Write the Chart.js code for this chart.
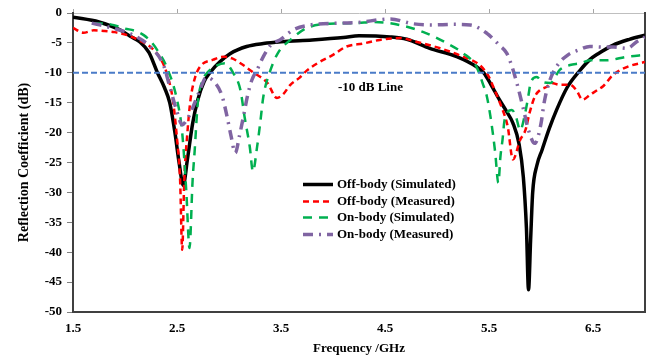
<!DOCTYPE html>
<html>
<head>
<meta charset="utf-8">
<script src="https://cdn.jsdelivr.net/npm/chart.js@4.4.1/dist/chart.umd.min.js"></script>
<style>
  html, body { margin: 0; padding: 0; background: #fff; }
  #wrap { width: 650px; height: 356px; }
</style>
</head>
<body>
<div id="wrap"><canvas id="s11Chart"></canvas></div>
<script>
// frequency (GHz) / reflection coefficient (dB) pairs for each curve
const offSimFreq = [1.5, 1.75, 1.95, 2.05, 2.14, 2.23, 2.31, 2.38, 2.43, 2.48, 2.52, 2.56, 2.6, 2.65, 2.7, 2.76, 2.82, 2.91, 3.01, 3.17, 3.33, 3.5, 3.8, 4.1, 4.25, 4.55, 4.71, 4.93, 5.19, 5.38, 5.45, 5.52, 5.6, 5.67, 5.73, 5.79, 5.83, 5.86, 5.88, 5.9, 5.92, 5.96, 6.01, 6.08, 6.15, 6.25, 6.37, 6.47, 6.55, 6.69, 6.85, 7];
const offSimDb = [-0.7, -1.5, -2.8, -3.9, -4.8, -6.6, -9.9, -12.5, -15, -20, -25, -28.8, -24.5, -18.5, -14.5, -11.5, -9.9, -8.2, -6.8, -5.6, -5.1, -4.8, -4.5, -4.1, -3.8, -4.0, -4.4, -5.9, -7.3, -9.0, -10, -12, -14.5, -16.5, -18.4, -22, -27.4, -36, -46.3, -38, -30, -25.5, -22.9, -19.3, -16.2, -12.5, -9.7, -7.8, -6.8, -5.4, -4.4, -3.7];

const offMeasFreq = [1.5, 1.6, 1.7, 1.8, 1.9, 2.02, 2.14, 2.24, 2.34, 2.4, 2.46, 2.5, 2.53, 2.55, 2.57, 2.6, 2.63, 2.67, 2.72, 2.85, 2.95, 3.03, 3.11, 3.23, 3.37, 3.46, 3.52, 3.59, 3.68, 3.75, 3.85, 4.0, 4.13, 4.29, 4.45, 4.64, 4.8, 5.03, 5.25, 5.41, 5.5, 5.54, 5.62, 5.68, 5.73, 5.8, 5.85, 5.89, 5.94, 5.99, 6.06, 6.1, 6.18, 6.28, 6.34, 6.4, 6.47, 6.54, 6.6, 6.69, 6.83, 7];
const offMeasDb = [-2.5, -3.3, -2.9, -3.0, -3.2, -3.7, -4.6, -5.6, -7.6, -10, -14.5, -21, -28, -39.6, -28, -20, -14.5, -11, -9, -7.8, -7.3, -7.6, -8.4, -9.9, -11.7, -14.2, -13.6, -12, -10.8, -9.6, -8.4, -7, -5.6, -5.1, -4.5, -4.2, -4.8, -5.9, -7.3, -8.7, -10.7, -12.3, -15.7, -19, -24.5, -21.2, -19.6, -16.7, -14, -12.9, -12.3, -11.7, -12, -12, -12.9, -14.5, -13.7, -12.9, -12.2, -10.4, -9, -8.2];

const onSimFreq = [1.7, 1.86, 2.0, 2.1, 2.18, 2.25, 2.31, 2.4, 2.5, 2.55, 2.59, 2.62, 2.65, 2.67, 2.7, 2.74, 2.79, 2.88, 2.96, 3.04, 3.11, 3.15, 3.2, 3.23, 3.27, 3.3, 3.33, 3.39, 3.47, 3.59, 3.75, 3.97, 4.23, 4.38, 4.64, 4.87, 5.1, 5.25, 5.38, 5.44, 5.48, 5.52, 5.56, 5.59, 5.61, 5.63, 5.65, 5.72, 5.76, 5.8, 5.84, 5.88, 5.9, 5.96, 6.01, 6.09, 6.18, 6.28, 6.38, 6.47, 6.63, 6.83, 7];
const onSimDb = [-1.7, -1.9, -2.6, -3.0, -3.7, -4.8, -6.2, -9, -14.5, -20, -30, -39.3, -28, -23, -15, -11.5, -10, -8.8, -8.4, -10, -12.9, -17.4, -22.4, -26.5, -22.4, -18.4, -14, -10, -6.7, -4.5, -2.5, -1.8, -1.7, -1.5, -2.0, -3.2, -5.1, -6.7, -9, -11.8, -14, -18, -23.4, -28.4, -24, -21.2, -17.9, -16.2, -17.4, -19.6, -17.4, -13.7, -11.7, -10.7, -11.5, -11.7, -9.5, -8.7, -8.4, -7.9, -7.9, -7.3, -7];

const onMeasFreq = [1.68, 1.83, 2.08, 2.24, 2.37, 2.43, 2.5, 2.55, 2.59, 2.63, 2.72, 2.78, 2.84, 2.93, 2.98, 3.02, 3.06, 3.1, 3.14, 3.18, 3.22, 3.27, 3.33, 3.41, 3.49, 3.62, 3.78, 4.07, 4.23, 4.55, 4.77, 4.96, 5.15, 5.32, 5.48, 5.55, 5.6, 5.67, 5.72, 5.78, 5.83, 5.88, 5.94, 6.0, 6.03, 6.08, 6.16, 6.26, 6.36, 6.47, 6.6, 6.7, 6.83, 6.92, 7];
const onMeasDb = [-1.7, -2.3, -3.7, -5.6, -8.7, -12.3, -16.5, -18.7, -18, -16.7, -12.9, -10.8, -11.2, -13.7, -17.2, -20.6, -23.4, -20.6, -17.2, -13.7, -11.2, -9.5, -7.3, -5.2, -4.5, -2.8, -2.0, -1.7, -1.6, -1.0, -1.8, -2.0, -1.9, -2.0, -3.4, -4.5, -5.4, -6.7, -8.9, -12.5, -16, -19.6, -21.8, -18.5, -15, -11.5, -8.7, -7, -6.2, -5.6, -5.7, -5.7, -5.9, -4.8, -4.0];

const seriesNames = ['Off-body (Simulated)', 'Off-body (Measured)', 'On-body (Simulated)', 'On-body (Measured)'];
const xTicks = [1.5, 2.5, 3.5, 4.5, 5.5, 6.5];
const freqRange = [1.5, 7];
const refLineDb = -10;
const refLabel = '-10 dB Line';
const refLabelAt = [4.36, -12.5];

const serif = '"Liberation Serif", "Times New Roman", serif';

function pairs(xs, ys) {
  return xs.map((x, i) => ({ x: x, y: ys[i] }));
}

function line(label, xs, ys, color, width, dash, order) {
  return {
    label: label,
    data: pairs(xs, ys),
    borderColor: color,
    borderWidth: width,
    borderDash: dash,
    cubicInterpolationMode: 'monotone',
    pointRadius: 0,
    fill: false,
    order: order,
    xAxisID: 'x',
    yAxisID: 'y'
  };
}

// legend box and the "-10 dB" caption sit inside the plot area
const insideLegend = {
  id: 'insideLegend',
  afterDraw(chart) {
    const { ctx, chartArea, scales } = chart;
    ctx.save();
    ctx.font = 'bold 13px ' + serif;
    ctx.fillStyle = '#000';
    ctx.textBaseline = 'middle';
    ctx.textAlign = 'center';
    ctx.fillText(refLabel, scales.x.getPixelForValue(refLabelAt[0]), scales.y.getPixelForValue(refLabelAt[1]));

    const x0 = chartArea.left + 230;
    const y0 = chartArea.top + 171;
    ctx.textAlign = 'left';
    chart.data.datasets.filter(d => d.label).forEach((d, i) => {
      const y = Math.round(y0 + i * 16.7) + 0.5;
      ctx.strokeStyle = d.borderColor;
      ctx.lineWidth = d.borderWidth;
      ctx.setLineDash(d.borderDash || []);
      ctx.beginPath();
      ctx.moveTo(x0, y);
      ctx.lineTo(x0 + 30, y);
      ctx.stroke();
      ctx.setLineDash([]);
      ctx.fillText(d.label, x0 + 34, y);
    });
    ctx.restore();
  }
};

const xTickBuilder = s => { s.ticks = xTicks.map(v => ({ value: v })); };
const tickFont = { family: serif, size: 13, weight: 'bold' };

new Chart(document.getElementById('s11Chart').getContext('2d'), {
  type: 'line',
  data: {
    datasets: [
      line(seriesNames[0], offSimFreq, offSimDb, '#000000', 3.5, [], 4),
      line(seriesNames[1], offMeasFreq, offMeasDb, '#FF0000', 2.5, [6, 4], 3),
      line(seriesNames[2], onSimFreq, onSimDb, '#00B050', 2.5, [9, 7], 2),
      line(seriesNames[3], onMeasFreq, onMeasDb, '#8064A2', 3.5, [10, 6, 2, 6], 1),
      {
        label: '',
        data: freqRange.map(f => ({ x: f, y: refLineDb })),
        borderColor: '#4A7BC8',
        borderWidth: 2,
        borderDash: [6, 3],
        pointRadius: 0,
        order: 0,
        xAxisID: 'x',
        yAxisID: 'y'
      }
    ]
  },
  options: {
    responsive: true,
    maintainAspectRatio: false,
    animation: false,
    layout: { padding: 0 },
    plugins: {
      legend: { display: false },
      tooltip: { enabled: false }
    },
    scales: {
      x: {
        type: 'linear',
        position: 'bottom',
        min: freqRange[0],
        max: freqRange[1],
        afterBuildTicks: xTickBuilder,
        afterFit: s => { s.height = 44; },
        ticks: { padding: 9, color: '#000', font: tickFont, callback: v => v.toFixed(1) },
        grid: { display: false, drawTicks: false },
        border: { display: true, color: '#404040', width: 2 },
        title: { display: true, text: 'Frequency /GHz', color: '#000', font: tickFont, padding: 0 }
      },
      xTop: {
        type: 'linear',
        position: 'top',
        min: freqRange[0],
        max: freqRange[1],
        afterBuildTicks: xTickBuilder,
        afterFit: s => { s.height = 13; },
        ticks: { display: false },
        grid: { drawOnChartArea: false, drawTicks: true, tickLength: 4, color: '#A6A6A6' },
        border: { display: true, color: '#BFBFBF', width: 1 }
      },
      y: {
        type: 'linear',
        position: 'left',
        min: -50,
        max: 0,
        afterFit: s => { s.width = 73; },
        ticks: { stepSize: 5, padding: 5, color: '#000', font: tickFont },
        grid: { drawOnChartArea: false, drawTicks: true, tickLength: 6, color: '#808080' },
        border: { display: true, color: '#404040', width: 2 },
        title: {
          display: true,
          text: 'Reflection Coefficient (dB)',
          color: '#000',
          font: { family: serif, size: 14, weight: 'bold' },
          padding: { top: 16, bottom: 0 }
        }
      },
      yRight: {
        type: 'linear',
        position: 'right',
        min: -50,
        max: 0,
        afterFit: s => { s.width = 5; },
        ticks: { display: false },
        grid: { display: false, drawTicks: false },
        border: { display: true, color: '#404040', width: 2 }
      }
    }
  },
  plugins: [insideLegend]
});
</script>
</body>
</html>
